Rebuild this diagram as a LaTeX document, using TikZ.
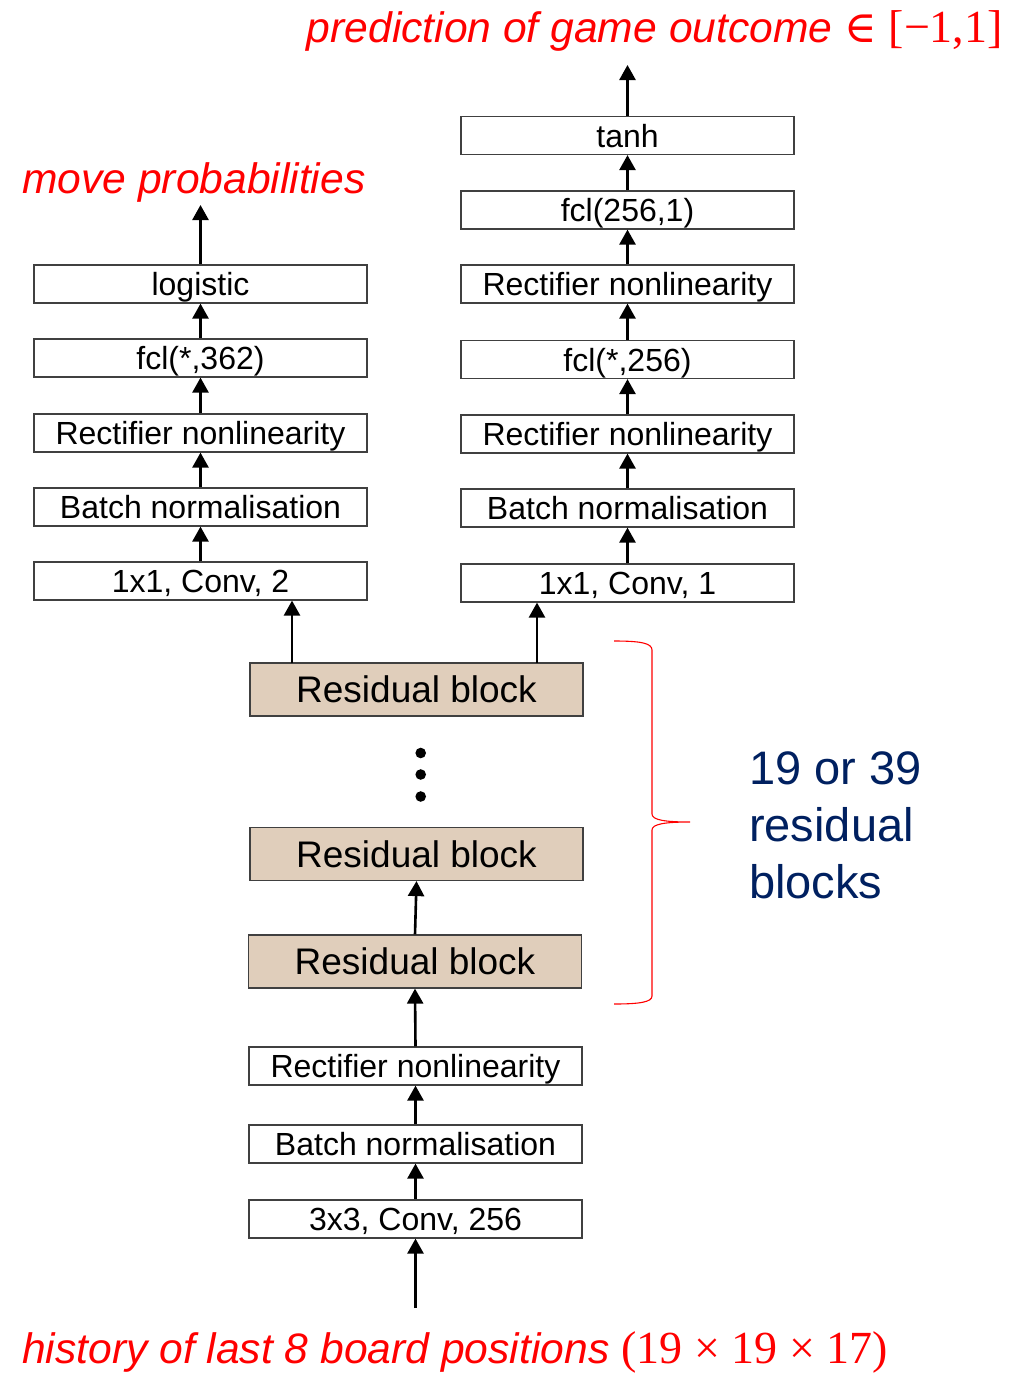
\documentclass[tikz,border=0pt]{standalone}
\usepackage{fontspec}
\setmainfont{Liberation Sans}
\newfontfamily\numserif{Liberation Serif}
\newfontfamily\symserif{DejaVu Serif}
\usetikzlibrary{arrows.meta}
\definecolor{blocktan}{RGB}{224,206,187}
\definecolor{navy}{RGB}{0,32,96}
\begin{document}
\begin{tikzpicture}[x=1pt,y=-1pt,
  layer/.style={draw=black!75, line width=1.2pt, fill=white,
    minimum width=333pt, minimum height=38pt, inner sep=0pt,
    font=\fontsize{32}{38}\selectfont, text height=23pt, text depth=0pt},
  resblock/.style={layer, fill=blocktan, minimum height=53pt,
    font=\fontsize{37}{43}\selectfont, text height=26.5pt},
  flow/.style={line width=2.6pt, -{Triangle[width=16pt,length=15pt]}},
  caption/.style={text=red, inner sep=0pt, font=\fontsize{42.6}{50}\selectfont\itshape},
  capmath/.style={font=\fontsize{46}{52}\selectfont}]
\useasboundingbox (0,0) rectangle (1035,1373);

% policy head
\node[layer] (pconv) at (200.5,581) {1x1, Conv, 2};
\node[layer] (pbn)   at (200.5,507) {Batch normalisation};
\node[layer] (prelu) at (200.5,433) {Rectifier nonlinearity};
\node[layer] (pfc)   at (200.5,358) {fcl(*,362)};
\node[layer] (plog)  at (200.5,284) {logistic};
\coordinate (pout) at (200.5,205);
\node[caption, anchor=base west] (ptext) at (22,193) {move probabilities};

% value head
\node[layer] (vconv) at (627.5,583) {1x1, Conv, 1};
\node[layer] (vbn)   at (627.5,508) {Batch normalisation};
\node[layer] (vrelu) at (627.5,434) {Rectifier nonlinearity};
\node[layer] (vfc)   at (627.5,359.5) {fcl(*,256)};
\node[layer] (vrelu2) at (627.5,284) {Rectifier nonlinearity};
\node[layer] (vfc2)  at (627.5,210) {fcl(256,1)};
\node[layer] (vtanh) at (627.5,135.5) {tanh};
\coordinate (vout) at (627.5,65);
\node[caption, anchor=base east] (vtext) at (1003,42)
  {prediction of game outcome {\upshape\fontsize{44}{50}\selectfont\symserif ∈}
   {\upshape\fontsize{46}{52}\selectfont\numserif [−1,1]}};

% residual tower
\node[resblock] (rb3) at (416.5,689.5) {Residual block};
\node[resblock] (rb2) at (416.5,854) {Residual block};
\node[resblock] (rb1) at (415,961.5) {Residual block};
\foreach \yy in {753,774.5,796.5}
  \fill (420.7,\yy) circle (5.3pt);

% input stem
\node[layer] (srelu) at (415.5,1066) {Rectifier nonlinearity};
\node[layer] (sbn)   at (415.5,1144) {Batch normalisation};
\node[layer] (sconv) at (415.5,1219) {3x3, Conv, 256};
\coordinate (sin) at (415.5,1308);
\node[caption, anchor=base west] (intext) at (22,1363)
  {history of last 8 board positions {\upshape\fontsize{46}{52}\selectfont\numserif (19 × 19 × 17)}};

% connectors
\draw[flow] (sin) -- (sconv.south);
\draw[flow] (sconv.north) -- (sbn.south);
\draw[flow] (sbn.north) -- (srelu.south);
\draw[flow] (srelu.north) -- (rb1.south);
\draw[flow] (rb1.north) -- (rb2.south);
\coordinate (pfork) at (292,663);
\coordinate (vfork) at (537,663);
\draw[flow] (pfork) -- (pfork |- pconv.south);
\draw[flow] (vfork) -- (vfork |- vconv.south);
\draw[flow] (pconv.north) -- (pbn.south);
\draw[flow] (pbn.north) -- (prelu.south);
\draw[flow] (prelu.north) -- (pfc.south);
\draw[flow] (pfc.north) -- (plog.south);
\draw[flow] (plog.north) -- (pout);
\draw[flow] (vconv.north) -- (vbn.south);
\draw[flow] (vbn.north) -- (vrelu.south);
\draw[flow] (vrelu.north) -- (vfc.south);
\draw[flow] (vfc.north) -- (vrelu2.south);
\draw[flow] (vrelu2.north) -- (vfc2.south);
\draw[flow] (vfc2.north) -- (vtanh.south);
\draw[flow] (vtanh.north) -- (vout);

% brace over the residual blocks
\draw[red, line width=1.1pt] (614,641) .. controls (640,641) and (652,643) .. (652,650)
  -- (652,814) .. controls (652,820) and (665,822) .. (690,822)
  .. controls (665,822) and (652,824) .. (652,830)
  -- (652,996) .. controls (652,1002) and (640,1004) .. (614,1004);
\node[text=navy, anchor=base west, inner sep=0pt, align=left,
  font=\fontsize{47}{57}\selectfont] (count) at (749,898)
  {19 or 39\\residual\\blocks};
\end{tikzpicture}
\end{document}
